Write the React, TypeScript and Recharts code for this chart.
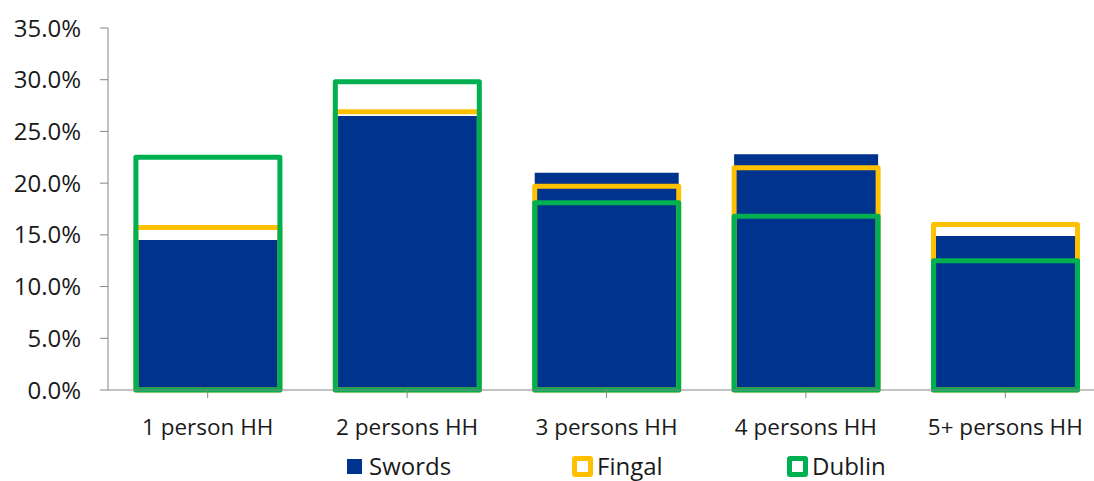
import { BarChart, Bar, XAxis, YAxis } from 'recharts';

// household size categories and share of households (%)
const categories = ['1 person HH', '2 persons HH', '3 persons HH', '4 persons HH', '5+ persons HH'];
const swords = [14.5, 26.5, 21.0, 22.8, 14.9];
const fingal = [15.7, 26.9, 19.7, 21.5, 16.0];
const dublin = [22.5, 29.8, 18.1, 16.8, 12.5];
const yTicks = [0, 5, 10, 15, 20, 25, 30, 35];

const NAVY = '#00338D';
const YELLOW = '#FFC000';
const GREEN = '#00B050';
const AXIS = '#868686';
const FONT = '"Open Sans", sans-serif';

const data = categories.map((name, i) => ({
  name,
  swords: swords[i],
  fingal: fingal[i],
  dublin: dublin[i],
}));

const legendItems = [
  { label: 'Swords', color: NAVY, filled: true, left: 347 },
  { label: 'Fingal', color: YELLOW, filled: false, left: 572 },
  { label: 'Dublin', color: GREEN, filled: false, left: 787 },
];

export default function App() {
  return (
    <div
      style={{
        position: 'absolute',
        left: 0,
        top: 0,
        width: 1094,
        height: 481,
        overflow: 'hidden',
        background: '#fff',
        fontFamily: FONT,
      }}
    >
      <BarChart
        width={1105}
        height={481}
        data={data}
        margin={{ top: 28, right: 0, bottom: 0, left: 0 }}
        barCategoryGap="14%"
      >
        <XAxis
          xAxisId="a"
          dataKey="name"
          height={91}
          stroke={AXIS}
          tickSize={8}
          tickMargin={21}
          interval={0}
          tick={{ fill: '#1a1a1a', fontSize: 22.5, fontFamily: FONT }}
        />
        <XAxis xAxisId="b" dataKey="name" hide />
        <XAxis xAxisId="c" dataKey="name" hide />
        <YAxis
          width={108}
          domain={[0, 35]}
          ticks={yTicks}
          interval={0}
          stroke={AXIS}
          tickSize={8}
          tickMargin={19}
          tickFormatter={(v: number) => `${v.toFixed(1)}%`}
          tick={{ fill: '#1a1a1a', fontSize: 24, fontFamily: FONT }}
        />
        <Bar xAxisId="a" dataKey="swords" fill={NAVY} isAnimationActive={false} />
        <Bar
          xAxisId="b"
          dataKey="fingal"
          fill="none"
          stroke={YELLOW}
          strokeWidth={5}
          strokeLinejoin="round"
          isAnimationActive={false}
        />
        <Bar
          xAxisId="c"
          dataKey="dublin"
          fill="none"
          stroke={GREEN}
          strokeWidth={5}
          strokeLinejoin="round"
          isAnimationActive={false}
        />
      </BarChart>
      {legendItems.map((item) => (
        <div
          key={item.label}
          style={{
            position: 'absolute',
            left: item.left,
            top: 454,
            display: 'flex',
            alignItems: 'center',
            fontSize: 24,
            color: '#1a1a1a',
            lineHeight: '24px',
          }}
        >
          {item.filled ? (
            <span
              style={{
                display: 'inline-block',
                width: 15,
                height: 15,
                background: item.color,
                marginRight: 7,
              }}
            />
          ) : (
            <span
              style={{
                display: 'inline-block',
                width: 11,
                height: 11,
                border: `5px solid ${item.color}`,
                borderRadius: 3,
                marginRight: 4,
              }}
            />
          )}
          {item.label}
        </div>
      ))}
    </div>
  );
}
